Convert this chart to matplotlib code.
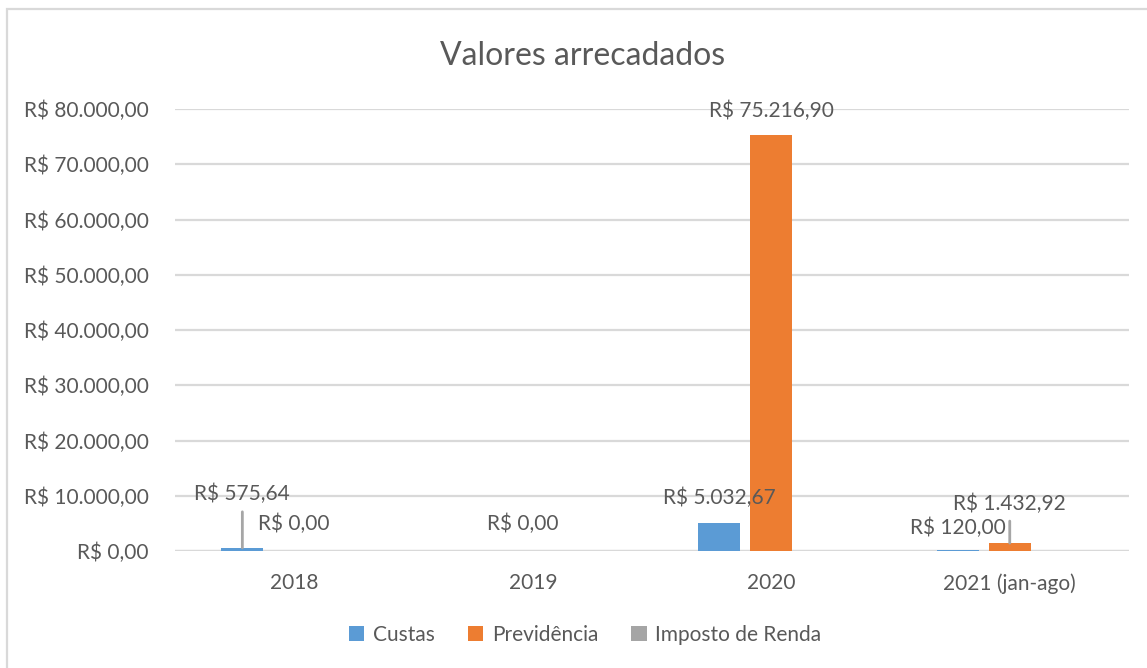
import numpy as np
import matplotlib
matplotlib.use("Agg")
import matplotlib.pyplot as plt
from matplotlib.patches import Rectangle

plt.rcParams['font.family'] = ['Lato', 'DejaVu Sans']

categories = ['2018', '2019', '2020', '2021 (jan-ago)']
series_names = ['Custas', 'Previdência', 'Imposto de Renda']
custas = [575.64, np.nan, 5032.67, 120.00]
previdencia = [0.00, 0.00, 75216.90, 1432.92]
imposto = [np.nan, np.nan, np.nan, np.nan]
colors = ['#5B9BD5', '#ED7D31', '#A5A5A5']
yticks = np.arange(0, 80001, 10000)


def brl(v):
    s = '{:,.2f}'.format(v)
    s = s.replace(',', 'X').replace('.', ',').replace('X', '.')
    return 'R$ ' + s


txt = '#595959'
fig = plt.figure(figsize=(11.47, 6.68), dpi=100)
ax = fig.add_axes([175/1147, (668-551)/668, (1129-175)/1147, (551-109)/668])

x = np.arange(len(categories))
w = 0.176
step = 0.2176
bars = []
for k, (vals, c) in enumerate(zip([custas, previdencia, imposto], colors)):
    b = ax.bar(x + (k - 1) * step, vals, width=w, color=c, label=series_names[k], zorder=3)
    bars.append(b)

ax.set_xlim(-0.5, 3.5)
ax.set_ylim(0, 80000)
ax.set_yticks(yticks)
ax.set_yticklabels([brl(v) for v in yticks])
ax.set_xticks(x)
ax.set_xticklabels(categories)
ax.tick_params(axis='both', length=0, labelsize=15, colors=txt)
ax.tick_params(axis='y', pad=19)
ax.tick_params(axis='x', pad=16)
ax.grid(axis='y', color='#D9D9D9', lw=1.6, zorder=0)
for s in ax.spines.values():
    s.set_visible(False)
ax.axhline(0, color='#D9D9D9', lw=1.6, zorder=1)

# data labels, offsets in pixels from the bar top
lab_kw = dict(textcoords='offset pixels', fontsize=15, color=txt, va='center')
ax.annotate(brl(custas[0]), xy=(x[0] - step, custas[0]), xytext=(0, 54), ha='center', **lab_kw)
ax.annotate('', xy=(x[0] - step, custas[0]), xytext=(0, 36), textcoords='offset pixels',
            arrowprops=dict(arrowstyle='-', color='#A6A6A6', lw=2, shrinkA=0, shrinkB=0))
ax.annotate(brl(previdencia[0]), xy=(x[0], previdencia[0]), xytext=(0, 27), ha='center', **lab_kw)
ax.annotate(brl(previdencia[1]), xy=(x[1], previdencia[1]), xytext=(-10, 27), ha='center', **lab_kw)
ax.annotate(brl(custas[2]), xy=(x[2] - step, custas[2]), xytext=(0, 25), ha='center', **lab_kw)
ax.annotate(brl(previdencia[2]), xy=(x[2], previdencia[2]), xytext=(0, 25), ha='center', **lab_kw)
ax.annotate(brl(previdencia[3]), xy=(x[3], previdencia[3]), xytext=(0, 39), ha='center', **lab_kw)
ax.annotate(brl(custas[3]), xy=(x[3] - step, custas[3]), xytext=(48, 22), ha='right', **lab_kw)
ax.annotate('', xy=(x[3], previdencia[3]), xytext=(0, 22), textcoords='offset pixels',
            arrowprops=dict(arrowstyle='-', color='#A6A6A6', lw=2, shrinkA=0, shrinkB=0))

fig.text(583/1147, 1 - 56/668, 'Valores arrecadados', fontsize=23,
         color=txt, ha='center', va='center')

fig.legend(handles=bars, labels=series_names, loc='center', bbox_to_anchor=(585/1147, 1 - 635/668),
           ncol=3, frameon=False, fontsize=15, labelcolor=txt, handlelength=0.75, handleheight=0.75,
           handletextpad=0.4, columnspacing=1.6)

fig.add_artist(Rectangle((7/1147, -0.2), 1.2, 1.2 - 9/668, transform=fig.transFigure,
                         fill=False, edgecolor='#D9D9D9', lw=1.6))

fig.savefig('out.png', dpi=100)
